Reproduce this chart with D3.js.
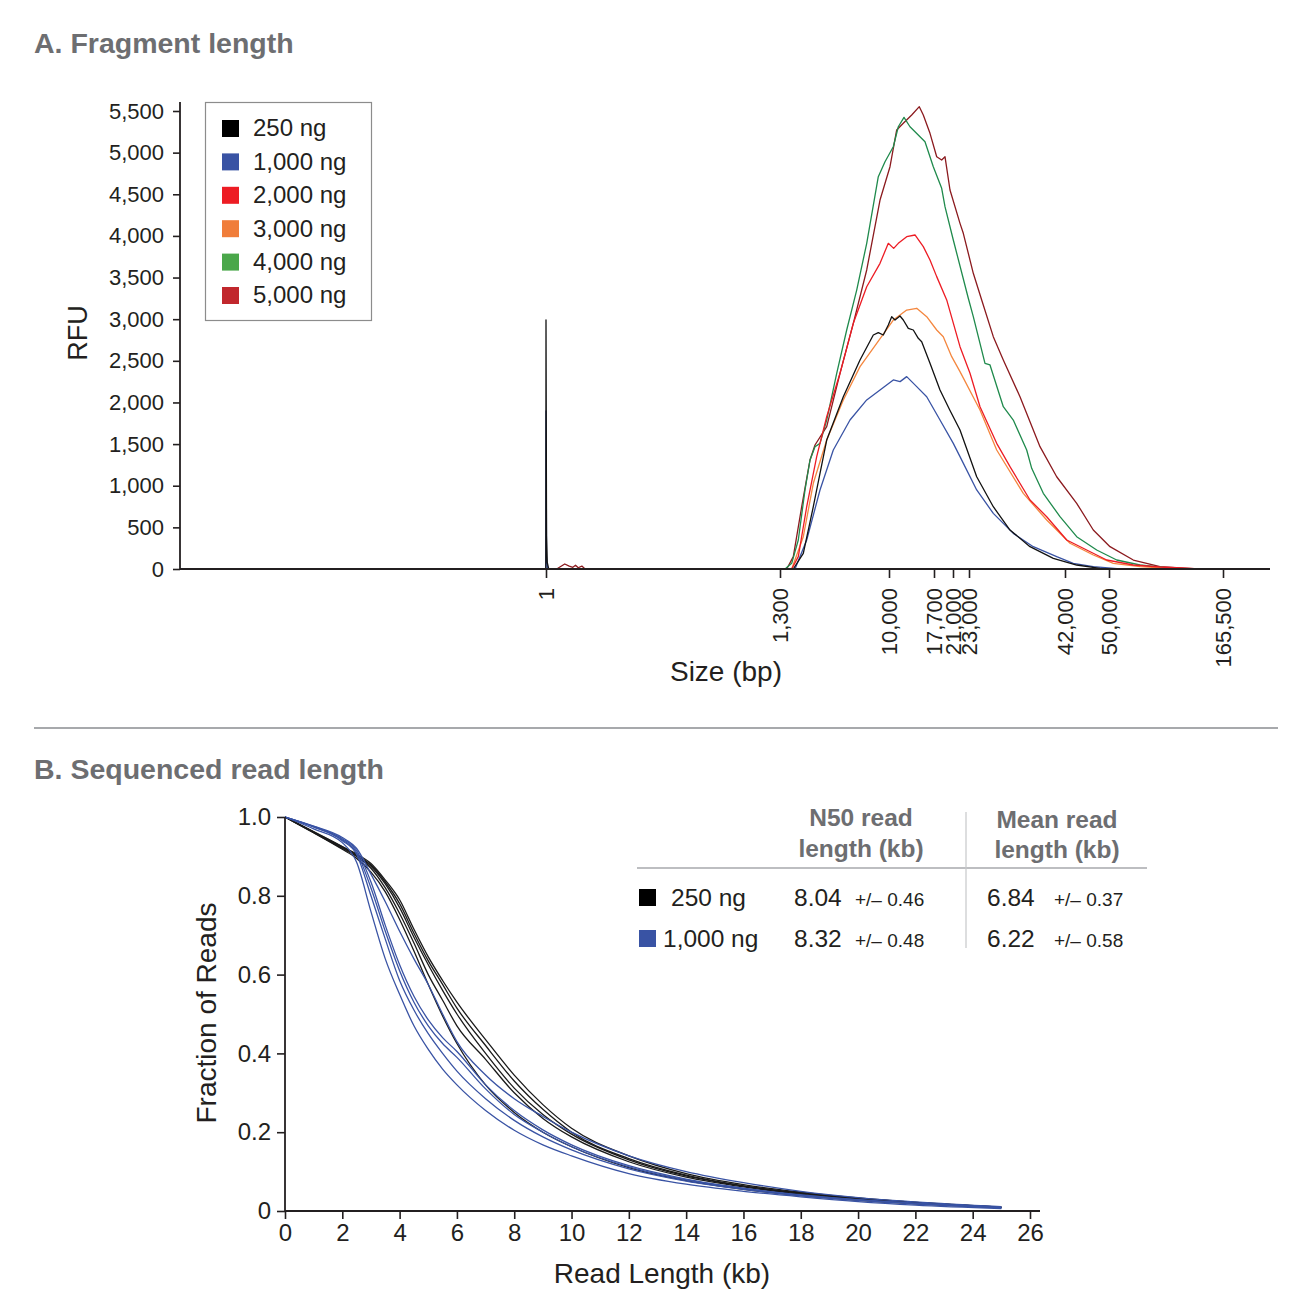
<!DOCTYPE html>
<html>
<head>
<meta charset="utf-8">
<script src="https://cdn.jsdelivr.net/npm/d3@7"></script>
<style>
  body { margin: 0; background: #fff; }
  svg { font-family: "Liberation Sans", Arial, Helvetica, sans-serif; }
</style>
</head>
<body>
<script>
const width = 1313;
const height = 1313;
const ink = '#231f20';
const titleGray = '#6d6e71';

// ---- Panel A: fragment length traces (size in bp, RFU) ----
const sampleLabels = ['250 ng', '1,000 ng', '2,000 ng', '3,000 ng', '4,000 ng', '5,000 ng'];
const swatchColors = ['#000000', '#3953a4', '#ed1c24', '#f07d3a', '#4aa74a', '#c1272d'];
const lineColors = ['#111111', '#3953a4', '#ed1c24', '#f4873f', '#1f8a4c', '#8b1a1e'];
const sizeTicks = [1, 1300, 10000, 17700, 21000, 23000, 42000, 50000, 165500];
const rfuTicks = [0, 500, 1000, 1500, 2000, 2500, 3000, 3500, 4000, 4500, 5000, 5500];

const trace250 = [[0, 0], [1, 2990], [4, 400], [8, 80], [16, 0], [2360, 0], [3160, 188], [3958, 748], [5028, 1549],
  [6353, 2069], [7686, 2510], [8747, 2810], [9146, 2838], [9545, 2810], [9944, 2930], [10462, 3030], [11027, 2990],
  [11882, 3038], [12447, 2990], [13302, 2890], [14158, 2870], [15013, 2770], [15595, 2730], [17015, 2470],
  [18742, 2150], [20437, 1909], [21875, 1669], [24524, 1108], [27809, 748], [31114, 468], [35072, 268],
  [39685, 128], [44127, 48], [48363, 8], [71273, 0], [205000, 0]];
const trace1000 = [[0, 0], [1, 1900], [4, 150], [10, 0], [2497, 0], [3432, 348], [4493, 949], [5554, 1429], [6887, 1789],
  [8221, 2030], [9283, 2150], [10736, 2270], [11900, 2250], [13028, 2310], [14739, 2190], [16451, 2069],
  [18742, 1789], [21038, 1509], [21875, 1349], [24524, 949], [27809, 668], [31767, 428], [35725, 268],
  [40356, 148], [43509, 68], [47145, 28], [61143, 0], [205000, 0]];
const trace2000 = [[0, 0], [2234, 0], [2761, 148], [3432, 748], [4229, 1349], [5028, 1829], [6089, 2350], [7151, 2950],
  [8221, 3390], [9283, 3671], [9944, 3911], [10800, 3850], [11591, 3911], [13028, 3991], [14449, 4011],
  [15869, 3871], [17015, 3711], [18169, 3511], [19906, 3231], [21875, 2670], [23198, 2350], [25177, 1949],
  [28482, 1509], [31114, 1229], [35072, 829], [38378, 628], [42309, 348], [45945, 228], [49585, 108],
  [74616, 48], [101663, 24], [142183, 0], [205000, 0]];
const trace3000 = [[0, 0], [2234, 0], [3160, 388], [3958, 1029], [5028, 1549], [6353, 2030], [7686, 2430], [9018, 2710],
  [10736, 2990], [13028, 3110], [14739, 3131], [16451, 3030], [18169, 2870], [19315, 2790], [20774, 2550],
  [21875, 2370], [25177, 1909], [28482, 1429], [33746, 909], [38378, 588], [42909, 309], [47145, 168],
  [54356, 68], [81403, 28], [121923, 0], [205000, 0]];
const trace4000 = [[0, 0], [1700, 0], [2234, 68], [2761, 348], [3296, 949], [3695, 1309], [4094, 1469], [4493, 1509],
  [5028, 1789], [5826, 2350], [6624, 2870], [7422, 3350], [8221, 3911], [9146, 4711], [9681, 4891],
  [10736, 5071], [11591, 5311], [12567, 5424], [13593, 5311], [15304, 5191], [16160, 5131], [17580, 4831],
  [19034, 4572], [19610, 4351], [21038, 3951], [22913, 3251], [23851, 3030], [26166, 2470], [27156, 2450],
  [29788, 1949], [31767, 1789], [34419, 1429], [35409, 1209], [37705, 909], [41009, 628], [44127, 388],
  [47763, 228], [57800, 108], [81403, 48], [118580, 0], [205000, 0]];
const trace5000 = [[0, 0], [60, 0], [105, 60], [130, 35], [150, 20], [165, 45], [180, 15], [200, 35], [215, 5], [240, 0],
  [1835, 0], [2362, 148], [3032, 748], [3695, 1309], [4094, 1489], [5028, 1709], [6089, 2350], [7151, 2950],
  [8221, 3591], [9283, 4431], [10171, 4831], [11317, 5272], [12447, 5352], [13884, 5452], [15185, 5552],
  [15869, 5452], [17015, 5232], [18169, 4951], [19034, 4912], [19610, 4951], [20479, 4551], [21875, 4151],
  [22288, 4031], [23851, 3551], [25513, 3231], [27809, 2790], [29788, 2510], [33093, 2069], [37051, 1469],
  [40356, 1108], [44127, 789], [47145, 468], [51013, 268], [74616, 108], [101663, 28], [135392, 5],
  [169226, 0], [205000, 0]];
const tracesA = [trace250, trace1000, trace2000, trace3000, trace4000, trace5000];

// ---- Panel B: fraction of reads longer than a given length ----
const readLengths = [0, 1, 2, 2.5, 3, 3.5, 4, 4.5, 5, 5.5, 6, 7, 8, 9, 10, 12, 14, 16, 18, 20, 22, 25];
const ng250Runs = [
  [1, 0.96, 0.918, 0.895, 0.86, 0.81, 0.74, 0.66, 0.575, 0.495, 0.425, 0.32, 0.25, 0.2, 0.163, 0.11, 0.077, 0.055, 0.039, 0.027, 0.018, 0.008],
  [1, 0.96, 0.92, 0.9, 0.87, 0.82, 0.755, 0.68, 0.6, 0.535, 0.47, 0.385, 0.3, 0.235, 0.188, 0.125, 0.086, 0.061, 0.043, 0.03, 0.02, 0.009],
  [1, 0.962, 0.922, 0.902, 0.875, 0.83, 0.77, 0.695, 0.625, 0.56, 0.5, 0.4, 0.312, 0.245, 0.195, 0.13, 0.089, 0.063, 0.045, 0.031, 0.021, 0.009],
  [1, 0.962, 0.924, 0.904, 0.878, 0.835, 0.78, 0.705, 0.635, 0.575, 0.515, 0.42, 0.33, 0.258, 0.2, 0.133, 0.091, 0.064, 0.046, 0.032, 0.022, 0.01],
  [1, 0.963, 0.925, 0.906, 0.882, 0.84, 0.79, 0.715, 0.645, 0.585, 0.53, 0.435, 0.345, 0.27, 0.21, 0.14, 0.095, 0.067, 0.048, 0.033, 0.022, 0.01]
];
const ng1000Runs = [
  [1, 0.97, 0.935, 0.885, 0.76, 0.64, 0.55, 0.47, 0.41, 0.36, 0.32, 0.255, 0.205, 0.168, 0.14, 0.095, 0.068, 0.05, 0.036, 0.024, 0.015, 0.006],
  [1, 0.975, 0.94, 0.905, 0.8, 0.69, 0.585, 0.51, 0.45, 0.4, 0.355, 0.285, 0.23, 0.188, 0.155, 0.107, 0.076, 0.055, 0.039, 0.027, 0.018, 0.008],
  [1, 0.975, 0.942, 0.91, 0.82, 0.71, 0.61, 0.53, 0.47, 0.425, 0.39, 0.31, 0.245, 0.2, 0.163, 0.112, 0.079, 0.057, 0.04, 0.028, 0.019, 0.008],
  [1, 0.976, 0.945, 0.915, 0.835, 0.725, 0.625, 0.545, 0.485, 0.44, 0.405, 0.32, 0.255, 0.206, 0.168, 0.115, 0.081, 0.058, 0.041, 0.029, 0.02, 0.009],
  [1, 0.977, 0.948, 0.92, 0.855, 0.785, 0.71, 0.64, 0.575, 0.5, 0.43, 0.345, 0.285, 0.24, 0.2, 0.14, 0.1, 0.072, 0.05, 0.034, 0.023, 0.011]
];
const readTicks = [0, 2, 4, 6, 8, 10, 12, 14, 16, 18, 20, 22, 24, 26];
const fractionTicks = [0, 0.2, 0.4, 0.6, 0.8, 1.0];

// table
const tableSamples = ['250 ng', '1,000 ng'];
const tableColors = ['#000000', '#3953a4'];
const n50Values = ['8.04', '8.32'];
const n50Sd = ['0.46', '0.48'];
const meanValues = ['6.84', '6.22'];
const meanSd = ['0.37', '0.58'];

//Create SVG canvas
const svg = d3.select('body').append('svg')
  .attr('width', width)
  .attr('height', height)
  .attr('viewBox', '0 0 ' + width + ' ' + height);

svg.append('rect').attr('width', width).attr('height', height).attr('fill', '#fff');

// titles and separator
svg.append('text').attr('x', 34).attr('y', 53).attr('font-size', 28.5).attr('font-weight', 'bold')
  .attr('fill', titleGray).text('A. Fragment length');
svg.append('text').attr('x', 34).attr('y', 779).attr('font-size', 28.5).attr('font-weight', 'bold')
  .attr('fill', titleGray).text('B. Sequenced read length');
svg.append('line').attr('x1', 34).attr('x2', 1278).attr('y1', 728).attr('y2', 728)
  .attr('stroke', '#a7a9ac').attr('stroke-width', 2);

function styleAxis(g, fontSize) {
  g.selectAll('.tick line').attr('stroke', ink).attr('stroke-width', 1.6);
  g.selectAll('.tick text').attr('fill', ink).attr('font-size', fontSize)
    .attr('font-family', '"Liberation Sans", Arial, sans-serif');
  g.select('.domain').remove();
}

// ================= Panel A =================
// sizing ladder axis: piecewise linear between the marker sizes
const xA = d3.scaleLinear().domain(sizeTicks).range([546, 780, 889, 934, 953, 969, 1065, 1109, 1223]);
const yA = d3.scaleLinear().domain([0, 5500]).range([569, 111]);

const yAxisA = svg.append('g').attr('transform', 'translate(180,0)')
  .call(d3.axisLeft(yA).tickValues(rfuTicks).tickFormat(d3.format(',')).tickSize(7).tickPadding(9));
styleAxis(yAxisA, 22);
svg.append('line').attr('x1', 180).attr('x2', 180).attr('y1', 102).attr('y2', 569)
  .attr('stroke', ink).attr('stroke-width', 1.8);

const xAxisA = svg.append('g').attr('transform', 'translate(0,569)')
  .call(d3.axisBottom(xA).tickValues(sizeTicks).tickFormat(d3.format(',')).tickSize(9));
styleAxis(xAxisA, 22);
xAxisA.selectAll('.tick text')
  .attr('transform', 'rotate(-90)')
  .attr('text-anchor', 'end')
  .attr('x', -19).attr('y', 0).attr('dy', '0.35em');

const lineA = d3.line().x(d => xA(d[0])).y(d => yA(d[1]));
// draw highest load first so the lighter loads sit on top
[5, 4, 3, 2, 1, 0].forEach(i => {
  svg.append('path')
    .datum(tracesA[i])
    .attr('d', lineA)
    .attr('fill', 'none')
    .attr('stroke', lineColors[i])
    .attr('stroke-width', 1.3)
    .attr('stroke-linejoin', 'round');
});

svg.append('line').attr('x1', 180).attr('x2', 1270).attr('y1', 569).attr('y2', 569)
  .attr('stroke', ink).attr('stroke-width', 1.8);

svg.append('text').attr('x', 726).attr('y', 681).attr('text-anchor', 'middle')
  .attr('font-size', 28).attr('fill', ink).text('Size (bp)');
svg.append('text').attr('transform', 'translate(87,333) rotate(-90)').attr('text-anchor', 'middle')
  .attr('font-size', 27).attr('fill', ink).text('RFU');

//legend
const legend = svg.append('g').attr('class', 'legend');
legend.append('rect').attr('x', 205.5).attr('y', 102.5).attr('width', 166).attr('height', 218)
  .attr('fill', '#fff').attr('stroke', '#8c8c8c').attr('stroke-width', 1.2);
const legendItem = legend.selectAll('.item').data(sampleLabels).enter().append('g')
  .attr('transform', (d, i) => 'translate(222,' + (128 + i * 33.4) + ')');
legendItem.append('rect').attr('x', 0).attr('y', -8).attr('width', 17).attr('height', 17)
  .attr('fill', (d, i) => swatchColors[i]);
legendItem.append('text').attr('x', 31).attr('y', 0).attr('dy', '0.35em')
  .attr('font-size', 24).attr('fill', ink).text(d => d);

// ================= Panel B =================
const xB = d3.scaleLinear().domain([0, 26]).range([285, 1030]);
const yB = d3.scaleLinear().domain([0, 1]).range([1211, 817]);

const xAxisB = svg.append('g').attr('transform', 'translate(0,1211)')
  .call(d3.axisBottom(xB).tickValues(readTicks).tickSize(8).tickPadding(5));
styleAxis(xAxisB, 24);
const yAxisB = svg.append('g').attr('transform', 'translate(285,0)')
  .call(d3.axisLeft(yB).tickValues(fractionTicks).tickSize(8).tickPadding(6)
    .tickFormat(d => d === 0 ? '0' : d3.format('.1f')(d)));
styleAxis(yAxisB, 24);

const lineB = d3.line().curve(d3.curveMonotoneX)
  .x((d, i) => xB(readLengths[i])).y(d => yB(d));
ng250Runs.forEach(run => {
  svg.append('path').datum(run).attr('d', lineB).attr('fill', 'none')
    .attr('stroke', '#1a1a1a').attr('stroke-width', 1.3);
});
ng1000Runs.forEach(run => {
  svg.append('path').datum(run).attr('d', lineB).attr('fill', 'none')
    .attr('stroke', '#3953a4').attr('stroke-width', 1.3);
});

svg.append('line').attr('x1', 285).attr('x2', 285).attr('y1', 817).attr('y2', 1211)
  .attr('stroke', ink).attr('stroke-width', 1.8);
svg.append('line').attr('x1', 285).attr('x2', 1040).attr('y1', 1211).attr('y2', 1211)
  .attr('stroke', ink).attr('stroke-width', 1.8);

svg.append('text').attr('x', 662).attr('y', 1283).attr('text-anchor', 'middle')
  .attr('font-size', 28).attr('fill', ink).text('Read Length (kb)');
svg.append('text').attr('transform', 'translate(216,1013) rotate(-90)').attr('text-anchor', 'middle')
  .attr('font-size', 28).attr('fill', ink).text('Fraction of Reads');

// summary table
const table = svg.append('g').attr('class', 'table');
[['N50 read', 861, 826], ['length (kb)', 861, 857], ['Mean read', 1057, 828], ['length (kb)', 1057, 858]]
  .forEach(h => {
    table.append('text').attr('x', h[1]).attr('y', h[2]).attr('text-anchor', 'middle')
      .attr('font-size', 24.5).attr('font-weight', 'bold').attr('fill', titleGray).text(h[0]);
  });
table.append('line').attr('x1', 637).attr('x2', 1147).attr('y1', 868).attr('y2', 868)
  .attr('stroke', '#a7a9ac').attr('stroke-width', 1.6);
table.append('line').attr('x1', 966).attr('x2', 966).attr('y1', 812).attr('y2', 948)
  .attr('stroke', '#c7c8ca').attr('stroke-width', 1.2);

const rows = table.selectAll('.row').data(tableSamples).enter().append('g')
  .attr('transform', (d, i) => 'translate(0,' + (906 + i * 41) + ')');
rows.append('rect').attr('x', 639).attr('y', -17).attr('width', 17).attr('height', 17)
  .attr('fill', (d, i) => tableColors[i]);
rows.append('text').attr('x', (d, i) => i === 0 ? 671 : 663).attr('font-size', 24.5).attr('fill', ink).text(d => d);
rows.append('text').attr('x', 794).attr('font-size', 24.5).attr('fill', ink).text((d, i) => n50Values[i]);
rows.append('text').attr('x', 855).attr('font-size', 19).attr('fill', ink).text((d, i) => '+/\u2013 ' + n50Sd[i]);
rows.append('text').attr('x', 987).attr('font-size', 24.5).attr('fill', ink).text((d, i) => meanValues[i]);
rows.append('text').attr('x', 1054).attr('font-size', 19).attr('fill', ink).text((d, i) => '+/\u2013 ' + meanSd[i]);
</script>
</body>
</html>
